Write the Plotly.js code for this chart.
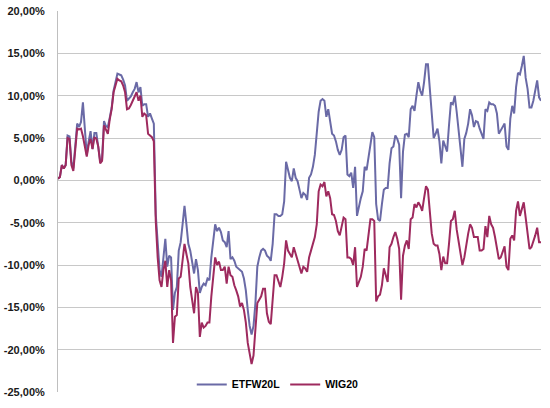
<!DOCTYPE html>
<html>
<head>
<meta charset="utf-8">
<script src="https://cdn.plot.ly/plotly-3.0.1.min.js"></script>
<style>html,body{margin:0;padding:0;background:#fff;}#chart{width:550px;height:408px;}</style>
</head>
<body>
<div id="chart"></div>
<script>
// Cumulative return (%) per trading session
const etfw20l = [
  0.2,0.4,1.8,1.4,1.8,5.3,5.2,2.2,1.4,3.7,6.7,6.3,6.9,9.2,6.0,3.0,4.6,5.8,3.7,5.6,5.6,
  4.2,2.3,2.5,7.0,6.4,6.3,7.4,8.6,10.6,11.8,12.6,12.5,12.4,11.9,11.2,9.4,9.6,9.9,10.4,10.8,11.6,
  10.4,11.0,8.8,9.0,9.0,7.5,7.9,7.3,6.7,-4.0,-7.9,-10.6,-11.4,-9.1,-6.9,-10.2,-8.9,-9.1,-15.3,-13.3,
  -12.6,-8.3,-7.3,-5.2,-3.0,-5.2,-7.5,-8.3,-9.5,-11.0,-9.3,-10.6,-13.3,-12.6,-12.2,-12.4,-11.6,-11.8,-9.1,-7.1,
  -5.2,-6.0,-5.6,-6.1,
  -7.1,-7.3,-7.9,-6.0,-9.3,-9.1,-9.5,-10.2,-10.4,-10.6,-10.8,-11.6,-13.0,-15.3,-17.2,-18.2,-17.2,-14.5,-10.2,-9.1,
  -8.3,-8.1,-8.3,-8.9,-9.1,-9.5,-7.5,-4.0,-4.0,-4.2,-4.2,-4.0,-2.5,2.2,1.4,0.3,-0.1,1.4,0.3,-0.1,
  -1.1,-2.1,-1.5,
  -1.7,-2.3,0.3,0.7,1.6,3.0,5.3,8.1,9.4,9.6,9.4,7.5,8.4,7.1,5.5,5.3,4.6,3.6,3.0,3.6,
  5.1,5.3,0.7,0.5,0.9,-0.9,1.6,-4.2,-3.0,-2.1,-1.3,1.6,1.2,2.8,4.6,5.7,5.1,-2.8,-4.6,-4.8,
  -2.8,-1.1,
  -0.9,-0.9,2.0,3.8,4.0,5.3,4.9,4.2,-2.1,3.4,5.4,5.5,5.1,8.4,8.8,8.2,10.0,11.6,10.6,10.0,
  11.6,13.7,13.7,10.4,7.7,5.0,5.5,6.1,4.6,2.0,4.7,4.0,3.4,6.5,9.2,9.0,10.0,8.1,5.7,3.8,
  1.6,4.9,
  5.6,6.7,8.4,7.7,6.3,7.0,6.9,6.1,5.5,4.9,8.4,8.2,9.2,9.0,9.0,8.8,7.9,5.5,5.9,6.3,
  6.7,4.0,3.6,7.3,8.8,7.9,11.0,12.7,12.5,13.5,14.7,12.1,10.8,8.6,8.6,9.4,10.6,11.8,9.8,9.4
];
const wig20 = [
  0.2,0.4,1.8,1.4,1.8,5.0,4.9,1.8,1.1,3.3,6.1,6.0,6.1,5.2,3.8,2.8,4.2,4.9,3.7,5.1,4.9,
  4.0,2.0,2.3,6.5,6.0,5.5,7.2,8.4,10.4,11.2,12.0,11.8,11.7,11.2,10.4,8.4,8.5,8.9,9.4,10.0,10.4,
  9.4,10.0,7.5,7.9,7.7,5.5,5.3,5.1,4.6,-4.8,-9.1,-11.8,-12.6,-10.6,-9.5,-12.6,-10.6,-11.8,-19.2,-16.1,
  -15.9,-11.6,-11.4,-9.1,-7.5,-8.7,-9.8,-12.6,-14.5,-15.7,-12.6,-13.3,-18.5,-16.8,-17.4,-17.2,-16.8,-16.8,-13.7,-11.4,
  -9.1,-10.0,-9.6,-10.6,
  -10.6,-10.2,-12.2,-10.2,-11.2,-11.4,-12.4,-13.0,-13.7,-14.9,-14.5,-15.3,-16.8,-19.2,-20.7,-21.7,-20.7,-18.0,-14.5,-14.1,
  -13.7,-12.8,-12.8,-15.7,-16.7,-17.0,-14.5,-11.2,-11.2,-11.8,-12.6,-11.4,-9.8,-7.1,-8.3,-8.7,-9.1,-7.9,-8.7,-9.5,
  -10.0,-11.0,-10.2,
  -10.4,-10.8,-9.1,-8.3,-7.5,-6.7,-5.2,-1.3,-0.5,-0.7,-0.2,-1.9,-1.3,-2.1,-4.0,-4.1,-4.8,-6.0,-6.5,-5.6,
  -4.4,-4.6,-9.1,-9.1,-9.3,-10.0,-7.9,-12.6,-12.0,-11.4,-10.2,-8.1,-8.3,-6.5,-4.6,-4.6,-4.8,-14.3,-13.7,-13.5,
  -12.4,-10.4,
  -11.2,-12.0,-7.9,-7.5,-6.7,-6.1,-6.9,-8.1,-14.1,-8.9,-7.7,-7.1,-8.1,-4.6,-4.4,-2.8,-3.2,-2.6,-3.0,-3.6,
  -2.1,-0.7,-1.1,-3.6,-6.3,-7.5,-7.7,-7.7,-8.7,-10.6,-9.0,-9.8,-9.8,-7.5,-4.8,-4.6,-3.6,-5.8,-7.1,-8.7,
  -10.0,-9.1,
  -7.5,-6.3,-5.2,-5.6,-6.7,-6.7,-6.7,-8.3,-8.3,-8.1,-5.4,-6.7,-4.2,-5.2,-5.6,-6.7,-7.9,-9.3,-9.1,-8.3,
  -7.8,-10.2,-10.6,-6.9,-6.5,-7.1,-3.6,-2.5,-4.2,-3.4,-2.6,-4.4,-6.3,-8.1,-7.9,-7.3,-6.5,-5.6,-7.3,-7.3
];
const seriesNames = ["ETFW20L", "WIG20"];
const yTickVals = [-25, -20, -15, -10, -5, 0, 5, 10, 15, 20];
const yTickText = ["-25,00%", "-20,00%", "-15,00%", "-10,00%", "-5,00%", "0,00%", "5,00%", "10,00%", "15,00%", "20,00%"];

const sessions = etfw20l.map((_, i) => i);

const traces = [
  {x: sessions, y: etfw20l, name: seriesNames[0], type: "scatter", mode: "lines",
   line: {color: "#6a6aa6", width: 2}},
  {x: sessions, y: wig20, name: seriesNames[1], type: "scatter", mode: "lines",
   line: {color: "#9e2a5e", width: 2}}
];

const layout = {
  width: 550, height: 408,
  margin: {l: 58, r: 9, t: 11, b: 12, pad: 0},
  paper_bgcolor: "#ffffff", plot_bgcolor: "#ffffff",
  font: {family: "Liberation Sans, Arial, sans-serif", size: 11, color: "#1a1a1a"},
  showlegend: true,
  legend: {orientation: "h", x: 0.455, xanchor: "center", y: 0.02, yanchor: "middle",
           font: {family: "Liberation Sans, Arial, sans-serif", size: 10.5, color: "#000", weight: "bold"},
           bgcolor: "rgba(0,0,0,0)", itemwidth: 30, tracegroupgap: 0},
  xaxis: {range: [0, sessions.length - 1], showgrid: false, zeroline: false,
          showticklabels: false, ticks: "", showline: false, fixedrange: true},
  yaxis: {range: [-25, 20], tickvals: yTickVals, ticktext: yTickText,
          showgrid: true, gridcolor: "#c8c8c8", gridwidth: 1, zeroline: false,
          showline: true, linecolor: "#bfbfbf", linewidth: 1, ticks: "",
          ticklabelstandoff: 10,
          tickfont: {family: "Liberation Sans, Arial, sans-serif", size: 11, color: "#1a1a1a", weight: "bold"}}
};

Plotly.newPlot("chart", traces, layout, {staticPlot: true, displayModeBar: false});
</script>
</body>
</html>
